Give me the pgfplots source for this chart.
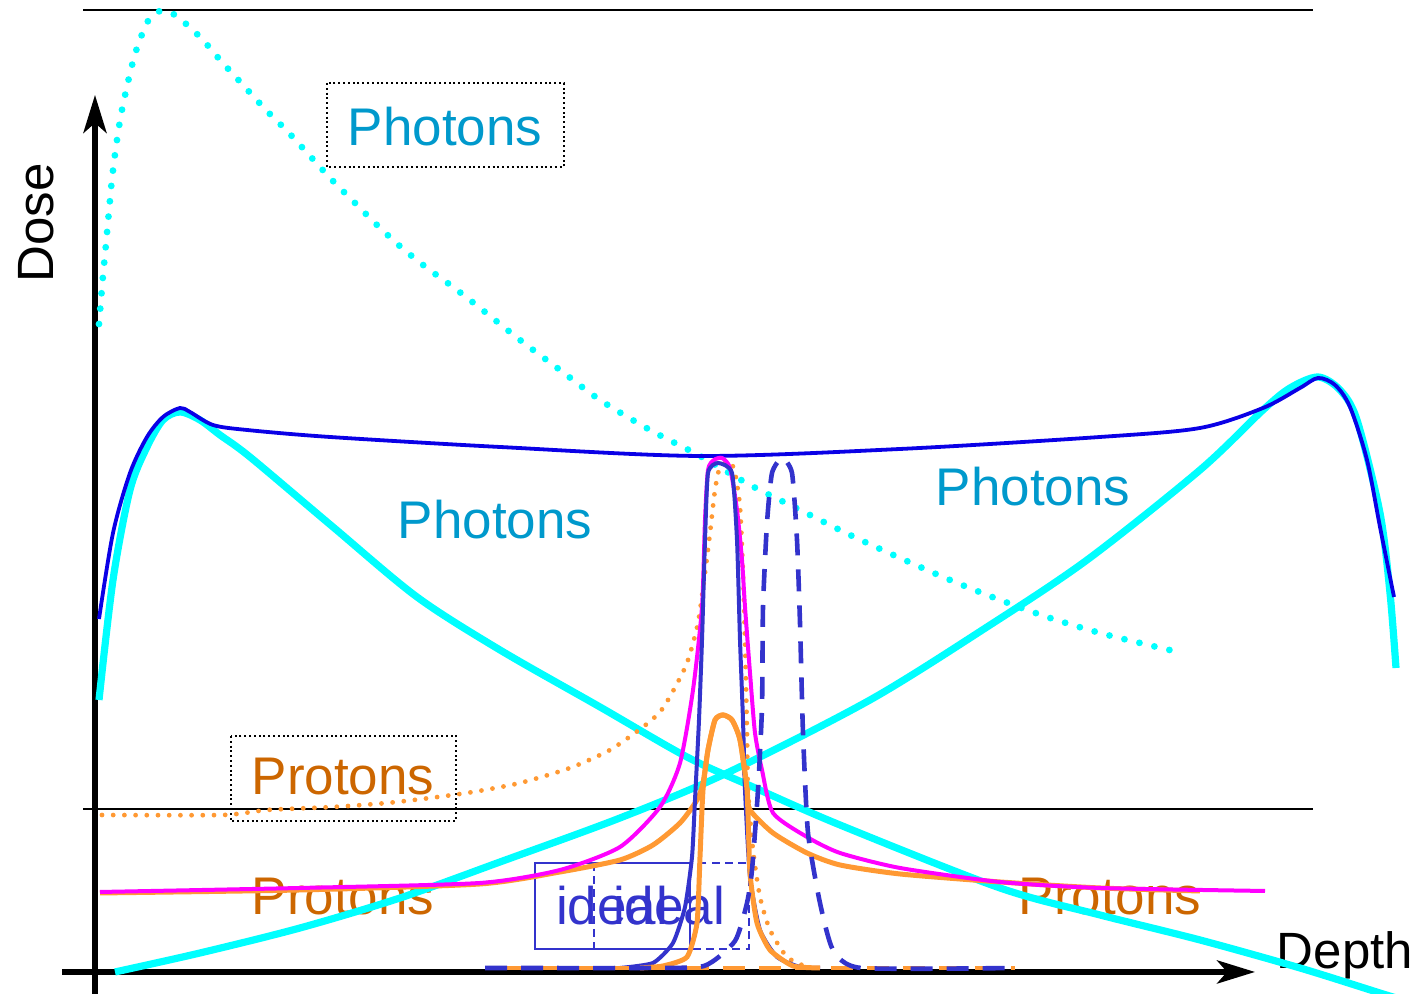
\documentclass[border=0pt]{standalone}
\usepackage{pgfplots}
\pgfplotsset{compat=1.18}
\usepackage{fontspec}
\setmainfont{Liberation Sans}
\usetikzlibrary{arrows.meta}
\definecolor{cy}{RGB}{0,255,255}
\definecolor{bl}{RGB}{10,0,230}
\definecolor{bp}{RGB}{51,51,204}
\definecolor{mg}{RGB}{255,0,255}
\definecolor{og}{RGB}{255,153,51}
\definecolor{phc}{RGB}{0,153,204}
\definecolor{prc}{RGB}{204,102,0}
\newcommand{\bigf}{\fontsize{13.25bp}{15bp}\selectfont}
\newcommand{\axf}{\fontsize{12.75bp}{15bp}\selectfont}
\begin{document}
\begin{tikzpicture}
\begin{axis}[
  scale only axis, width=356.75bp, height=248.5bp,
  xmin=0, xmax=1427, ymin=0, ymax=994, y dir=reverse,
  hide axis, clip=true,
]
% thin horizontal lines
\addplot[black, line width=0.5bp] coordinates {(83,10) (1313,10)};
\addplot[black, line width=0.5bp] coordinates {(83,809) (1313,809)};
% axes
\addplot[black, line width=1.3bp, -{Stealth[length=9.5bp, width=5.8bp, inset=2.5bp]}] coordinates {(95,994) (95,95)};
\addplot[black, line width=1.3bp, -{Stealth[length=9.5bp, width=5.8bp, inset=2.5bp]}] coordinates {(62,972) (1255,972)};
% labels
\node[anchor=base, rotate=90, font=\axf] at (axis cs:53,223) {Dose};
\node[anchor=base, font=\axf] at (axis cs:1345,969) {Depth};
% boxes
\draw[black, line width=0.5bp, dash pattern=on 0.5bp off 0.7bp] (axis cs:327,83) rectangle (axis cs:564,167);
\draw[black, line width=0.5bp, dash pattern=on 0.5bp off 0.7bp] (axis cs:231,736) rectangle (axis cs:456,821);
\draw[bp, line width=0.4bp] (axis cs:535,863) rectangle (axis cs:690,949);
\draw[bp, line width=0.4bp, dash pattern=on 2bp off 1.3bp] (axis cs:594,863) rectangle (axis cs:749,949);
% texts
\node[anchor=base, font=\bigf, text=phc] at (axis cs:445,146) {Photons};
\node[anchor=base, font=\bigf, text=phc] at (axis cs:495,539) {Photons};
\node[anchor=base, font=\bigf, text=phc] at (axis cs:1033,506) {Photons};
\node[anchor=base, font=\bigf, text=prc] at (axis cs:343,795) {Protons};
\node[anchor=base, font=\bigf, text=prc] at (axis cs:343,915) {Protons};
\node[anchor=base, font=\bigf, text=prc] at (axis cs:1110,915) {Protons};
\node[anchor=base, font=\bigf, text=bp] at (axis cs:612,925) {ideal};
\node[anchor=base, font=\bigf, text=bp] at (axis cs:669,925) {ideal};
% cyan dotted
\addplot[cy, line width=1.7bp, line cap=round, dash pattern=on 0bp off 3.85bp, smooth, tension=0.5] coordinates {
(99,324)(103,276)(106,244)(109,211)(112,179)(116,147)(121,115)(128,82)(136,51)(148,21)(160,11)(175,15)(200,37)(221,61)(243,85)(265,109)(288,132)(310,156)(332,180)(355,203)(378,226)(402,248)(427,268)(453,287)(480,308)(520,340)(560,370)(600,400)(650,430)(700,456)(750,485)(800,510)(850,535)(900,558)(950,580)(1000,600)(1050,618)(1100,633)(1140,643)(1178,652)};
% cyan thick A
\addplot[cy, line width=1.8bp, smooth, tension=0.5] coordinates {
(99,700)(113,580)(130,490)(147,447)(163,420)(180,412)(200,420)(220,435)(250,457)(333,527)(417,597)(500,650)(600,707)(687,757)(753,787)(840,825)(1000,888)(1100,915)(1200,940)(1300,968)(1383,994)(1400,999)};
% cyan thick B
\addplot[cy, line width=1.8bp, smooth, tension=0.5] coordinates {
(115,972)(200,953)(300,928)(400,898)(500,862)(620,818)(727,773)(870,700)(987,627)(1087,560)(1200,470)(1263,410)(1290,388)(1318,377)(1340,390)(1357,420)(1380,513)(1390,593)(1396,668)};
% blue line
\addplot[bl, line width=0.95bp, smooth, tension=0.5] coordinates {
(99,619)(113,533)(130,473)(147,437)(163,417)(180,408)(190,412)(213,425)(247,430)(330,437)(500,447)(700,456)(900,449)(1100,437)(1200,428)(1263,408)(1300,388)(1318,378)(1335,385)(1350,407)(1367,460)(1380,527)(1394,597)};
% orange dotted
\addplot[og, line width=1.2bp, line cap=round, dash pattern=on 0bp off 2.8bp, smooth, tension=0.4] coordinates {
(102,815)(223,815)(267,810)(333,807)(387,803)(430,798)(473,792)(520,783)(570,768)(610,750)(643,727)(660,712)(672,693)(687,663)(698,623)(705,573)(710,533)(715,490)(720,467)(730,462)(735,473)(740,507)(743,573)(745,640)(747,733)(748,790)(753,850)(760,897)(770,930)(787,957)(807,967)};
% orange broad
\addplot[og, line width=1.25bp, smooth, tension=0.4] coordinates {
(100,893)(300,890)(480,884)(560,872)(620,860)(653,845)(680,823)(697,800)(703,783)(708,750)(715,720)(723,715)(732,720)(740,740)(747,790)(750,810)(773,833)(807,853)(840,865)(900,874)(1000,882)(1100,888)(1200,891)};
% magenta
\addplot[mg, line width=1bp, smooth, tension=0.4] coordinates {
(100,892)(300,888)(480,883)(560,870)(620,847)(660,807)(680,763)(693,690)(702,607)(705,520)(708,470)(714,460)(722,458)(730,468)(737,510)(742,560)(745,607)(750,673)(755,733)(762,770)(773,813)(807,837)(840,853)(900,868)(1000,882)(1100,888)(1265,891)};
% blue solid peak
\addplot[bp, line width=1bp, smooth, tension=0.35] coordinates {
(620,968)(653,963)(673,943)(685,907)(692,857)(695,800)(699,720)(702,640)(705,540)(708,473)(718,463)(732,473)(737,540)(740,640)(743,720)(745,790)(750,877)(760,930)(777,957)(800,967)(820,968)};
% orange narrow peak
\addplot[og, line width=1.25bp, smooth, tension=0.35] coordinates {
(640,968)(663,966)(687,957)(697,923)(700,857)(703,790)(708,750)(715,720)(723,715)(732,720)(740,740)(747,790)(750,873)(757,923)(770,950)(793,966)(820,968)};
% orange dashed baseline
\addplot[og, line width=1.1bp, dash pattern=on 5.5bp off 3.5bp, dash phase=3.5bp] coordinates {(485,968) (1015,968)};
% blue dashed peak
\addplot[bp, line width=1.15bp, dash pattern=on 5.5bp off 3.5bp, smooth, tension=0.35] coordinates {
(485,968)(640,968)(704,966)(735,941)(747,903)(752,870)(758,790)(762,707)(763,607)(767,523)(772,473)(782,458)(792,473)(797,540)(800,623)(803,733)(808,833)(820,903)(833,950)(861,968)(1015,968)};
\end{axis}
\pgfresetboundingbox
\useasboundingbox (current axis.south west) rectangle (current axis.north east);
\end{tikzpicture}
\end{document}
